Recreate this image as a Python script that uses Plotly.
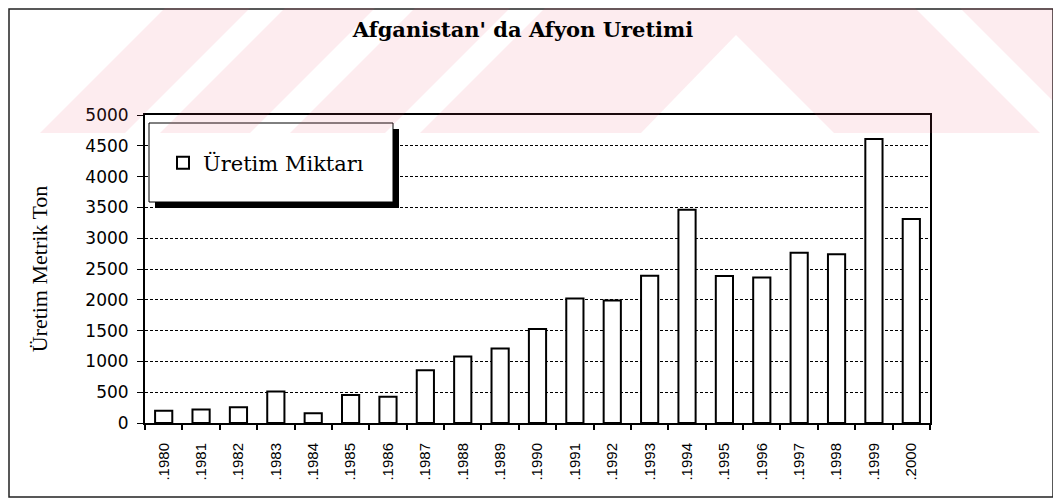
import plotly.graph_objects as go

# ---- data ----
years = [".1980", ".1981", ".1982", ".1983", ".1984", ".1985", ".1986", ".1987",
         ".1988", ".1989", ".1990", ".1991", ".1992", ".1993", ".1994", ".1995",
         ".1996", ".1997", ".1998", ".1999", ".2000"]
production = [200, 220, 255, 510, 160, 455, 425, 855, 1080, 1210, 1525, 2020,
              1990, 2390, 3460, 2385, 2360, 2765, 2740, 4610, 3310]
series_name = "Üretim Miktarı"
title_text = "Afganistan' da Afyon Uretimi"
y_title = "Üretim Metrik Ton"
y_ticks = list(range(0, 5001, 500))

# page has an 8px body margin; work in page pixel coordinates
OFF = 8
W, H = 1061 - OFF, 504 - OFF
PL, PR, PT, PB = 145, 930, 115, 423          # plot area in page pixels
L, T = PL - OFF, PT - OFF
R, B = W - (PR - OFF), H - (PB - OFF)
PW, PH = PR - PL, PB - PT


def px(x):
    return (x - PL) / PW


def py(y):
    return (PB - y) / PH


fig = go.Figure()
fig.add_trace(go.Bar(
    x=years, y=production, name=series_name,
    marker=dict(color="white", line=dict(color="black", width=2)),
    width=0.46, showlegend=True,
))

shapes = []
# legend shadow and box
shapes.append(dict(type="rect", xref="paper", yref="paper",
                   x0=px(155), x1=px(399), y0=py(208), y1=py(129),
                   fillcolor="black", line=dict(width=0), layer="above"))
shapes.append(dict(type="rect", xref="paper", yref="paper",
                   x0=px(149), x1=px(393), y0=py(202), y1=py(123),
                   fillcolor="white", line=dict(color="black", width=1), layer="above"))
# outer frame
shapes.append(dict(type="rect", xref="paper", yref="paper",
                   x0=px(9), x1=px(1053), y0=py(497), y1=py(9),
                   fillcolor="rgba(0,0,0,0)", line=dict(color="#222", width=1.5), layer="above"))

# faint watermark stripes (decoration)
pink = "rgba(240,80,110,0.11)"
yb = 133
polys = [
    [(40, yb), (125, yb), (258, 0), (173, 0)],
    [(160, yb), (250, yb), (383, 0), (293, 0)],
    [(290, yb), (385, yb), (518, 0), (423, 0)],
    [(420, yb), (641, yb), (736, 35), (834, yb), (1040, yb), (907, 0), (553, 0)],
    [(1085, yb), (1061, yb), (1061, 0), (952, 0)],
]
for poly in polys:
    path = "M " + " L ".join(f"{px(x):.5f},{py(y):.5f}" for x, y in poly) + " Z"
    shapes.append(dict(type="path", xref="paper", yref="paper", path=path,
                       fillcolor=pink, line=dict(width=0), layer="above"))

fig.update_layout(
    width=W, height=H,
    margin=dict(l=L, r=R, t=T, b=B, autoexpand=False),
    paper_bgcolor="white", plot_bgcolor="white",
    title=dict(text=title_text, x=(523 - OFF) / W, xanchor="center",
               y=1 - (30 - OFF) / H, yanchor="middle",
               font=dict(family="DejaVu Serif", size=21, color="black", weight="bold")),
    showlegend=True,
    legend=dict(x=px(163), y=py(163), xanchor="left", yanchor="middle",
                bgcolor="rgba(0,0,0,0)", borderwidth=0,
                font=dict(family="DejaVu Serif", size=21, color="black")),
    bargap=0.54,
    shapes=shapes,
)
fig.update_xaxes(
    type="category", showline=True, linecolor="black", linewidth=2, mirror=True,
    ticks="outside", ticklen=5, tickwidth=1.5, tickcolor="black", tickson="boundaries",
    tickangle=-90, ticklabelstandoff=12,
    tickfont=dict(family="Liberation Sans", size=15, color="black"),
    showgrid=False,
)
fig.update_yaxes(
    range=[0, 5000], tickvals=y_ticks, showline=True, linecolor="black", linewidth=2, mirror=True,
    ticks="outside", ticklen=6, tickcolor="black", ticklabelstandoff=5,
    tickfont=dict(family="DejaVu Sans", size=17, color="black"),
    showgrid=True, gridcolor="black", gridwidth=1, griddash="3px,2px",
    zeroline=False,
    title=dict(text=y_title, standoff=32,
               font=dict(family="Liberation Serif", size=22, color="black")),
)

fig.write_html("out.html")
